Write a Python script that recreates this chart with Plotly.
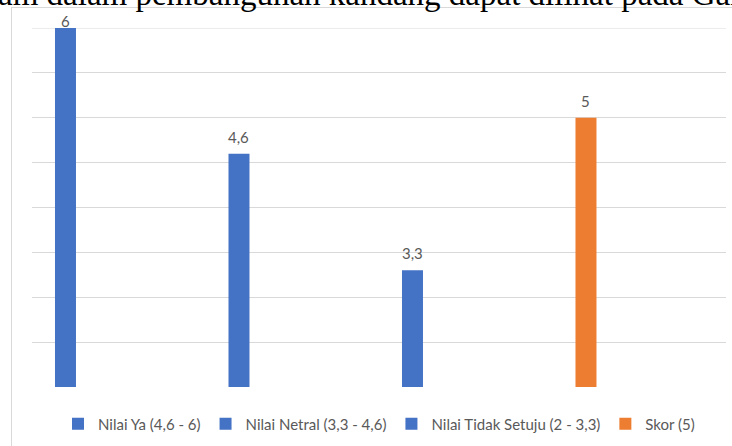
import plotly.graph_objects as go

# ---- data ----
series_names = ["Nilai Ya (4,6 - 6)", "Nilai Netral (3,3 - 4,6)",
                "Nilai Tidak Setuju (2 - 3,3)", "Skor (5)"]
values = [6, 4.6, 3.3, 5]
colors = ["#4472C4", "#4472C4", "#4472C4", "#ED7D31"]
y_min, y_max, y_step = 2, 6, 0.5
doc_text = "am dalam pembangunan kandang dapat dilihat pada Gambar"

W, H = 732, 446
ml, mr, mt, mb = 32, 6, 28, 59
plot_h = H - mt - mb
plot_w = W - ml - mr

fig = go.Figure()
for name, v, c in zip(series_names, values, colors):
    fig.add_trace(go.Bar(
        x=[name], y=[v], name=name, width=0.121,
        marker=dict(color=c, line=dict(width=0)),
        hovertemplate="%{y}<extra>" + name + "</extra>",
    ))

# data labels
for name, v in zip(series_names, values):
    shift = 7 if v >= y_max else 17
    fig.add_annotation(
        x=name, y=v, xref="x", yref="y", text=f"{v:g}".replace(".", ","),
        showarrow=False, yshift=shift, yanchor="middle",
        font=dict(family="Lato, Carlito, sans-serif", size=15, color="#595959"),
    )

py = lambda pix: (H - mb - pix) / plot_h
px = lambda pix: (pix - ml) / plot_w

# document text cut at the top (from the source page)
fig.add_annotation(
    x=px(-4), xref="paper", xanchor="left",
    y=py(14), yref="paper", yanchor="bottom",
    text=doc_text, showarrow=False,
    font=dict(family="Liberation Serif, serif", size=33, color="#000000"),
)

# chart frame border (top and left)
fig.add_shape(type="line", xref="paper", yref="paper",
              x0=px(11), x1=px(740), y0=py(7.5), y1=py(7.5),
              line=dict(color="#d9d9d9", width=1), layer="below")
fig.add_shape(type="line", xref="paper", yref="paper",
              x0=px(11.5), x1=px(11.5), y0=py(7.5), y1=py(450),
              line=dict(color="#d9d9d9", width=1))
# top gridline (at the axis maximum, which Plotly omits at the edge)
fig.add_shape(type="line", xref="paper", yref="y",
              x0=0, x1=1, y0=y_max, y1=y_max,
              line=dict(color="#d9d9d9", width=1), layer="below")

fig.update_layout(
    width=W, height=H,
    margin=dict(l=ml, r=mr, t=mt, b=mb),
    paper_bgcolor="white", plot_bgcolor="white",
    barmode="overlay",
    showlegend=True,
    legend=dict(orientation="h", x=0.5, xanchor="center",
                y=py(424), yanchor="middle",
                font=dict(family="Lato, Carlito, sans-serif", size=15, color="#595959"),
                traceorder="normal"),
    xaxis=dict(type="category", range=[-0.193, 3.807], showticklabels=False,
               showgrid=False, zeroline=False, showline=False, ticks=""),
    yaxis=dict(range=[y_min, y_max], tick0=y_min, dtick=y_step,
               showticklabels=False, gridcolor="#d9d9d9", gridwidth=1,
               zeroline=False, showline=False, ticks=""),
)

fig.write_html("out.html", config={"displayModeBar": False},
               post_script="document.body.style.margin='0';document.body.style.overflow='hidden';")
